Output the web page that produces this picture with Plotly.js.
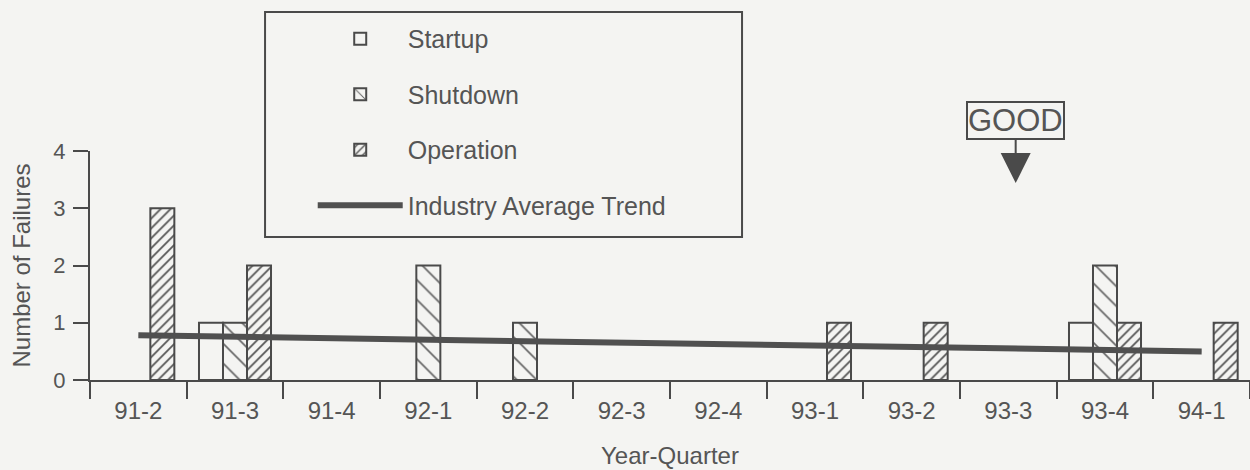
<!DOCTYPE html>
<html>
<head>
<meta charset="utf-8">
<script src="https://cdn.plot.ly/plotly-3.0.1.min.js"></script>
<style>html,body{margin:0;padding:0;background:#f4f4f2;}#chart{width:1250px;height:470px;}</style>
</head>
<body>
<div id="chart"></div>
<script>
var quarters = ['91-2','91-3','91-4','92-1','92-2','92-3','92-4','93-1','93-2','93-3','93-4','94-1'];
var startup   = [0,1,0,0,0,0,0,0,0,0,1,0];
var shutdown  = [0,1,0,2,1,0,0,0,0,0,2,0];
var operation = [3,2,0,0,0,0,0,1,1,0,1,1];
var trendX = ['91-2','94-1'];
var trendY = [0.78, 0.50];
var yTicks = [0,1,2,3,4];

var bg = '#f4f4f2';
var ink = '#4a4a4a';
var txt = '#555555';
var fontFam = '"Liberation Sans", Arial, sans-serif';
function nz(arr){ return arr.map(function(v){ return v === 0 ? null : v; }); }

var traces = [
  {type:'bar', name:'Startup', x:quarters, y:nz(startup), legendgroup:'a',
   marker:{color:bg, line:{color:ink, width:2}}},
  {type:'bar', name:'Shutdown', x:quarters, y:nz(shutdown), legendgroup:'b',
   marker:{color:bg, line:{color:ink, width:2},
     pattern:{shape:'\\', size:14, solidity:0.12, fgcolor:'#666', bgcolor:bg}}},
  {type:'bar', name:'Operation', x:quarters, y:nz(operation), legendgroup:'c',
   marker:{color:bg, line:{color:ink, width:2},
     pattern:{shape:'/', size:7, solidity:0.25, fgcolor:'#555', bgcolor:bg}}},
  {type:'scatter', mode:'lines', name:'Industry Average Trend', x:trendX, y:trendY, legendgroup:'d',
   line:{color:'#505050', width:6}}
];

var layout = {
  width:1250, height:470,
  paper_bgcolor:bg, plot_bgcolor:bg,
  margin:{l:90, r:0, t:151, b:90},
  barmode:'group', bargap:0.255, bargroupgap:0,
  font:{family:fontFam, color:txt, size:22},
  showlegend:true,
  legend:{x:0.192, xanchor:'left', y:1.59, yanchor:'top', bgcolor:'rgba(0,0,0,0)',
    borderwidth:0, font:{size:25, color:txt, family:fontFam},
    traceorder:'grouped', tracegroupgap:20, itemwidth:85},
  xaxis:{type:'category', categoryarray:quarters, tickson:'boundaries',
    showline:true, linecolor:ink, linewidth:2, mirror:false,
    ticks:'outside', ticklen:17, tickwidth:2, tickcolor:ink, ticklabelstandoff:8,
    tickfont:{size:24, color:txt}, showgrid:false, zeroline:false,
    title:{text:'Year-Quarter', font:{size:24, color:txt}, standoff:24}},
  yaxis:{range:[0,4], tickvals:yTicks, ticktext:yTicks.map(String),
    showline:true, linecolor:ink, linewidth:2,
    ticks:'outside', ticklen:15, tickwidth:2, tickcolor:ink, ticklabelstandoff:3,
    tickfont:{size:22, color:txt}, showgrid:false, zeroline:false,
    title:{text:'Number of Failures', font:{size:24, color:txt}, standoff:16}},
  shapes:[
    {type:'rect', xref:'paper', yref:'paper', x0:0.1509, x1:0.5621, y0:0.6245, y1:1.607,
     line:{color:ink, width:2}, fillcolor:'rgba(0,0,0,0)', layer:'below'}
  ],
  annotations:[
    {xref:'paper', yref:'y', x:0.798, y:3.44, text:'GOOD', showarrow:true,
     ax:0, ay:-63, arrowhead:2, arrowsize:3, arrowwidth:2, arrowcolor:ink,
     font:{size:31, color:txt, family:fontFam}, bordercolor:ink, borderwidth:2, borderpad:0,
     bgcolor:bg}
  ]
};

Plotly.newPlot('chart', traces, layout, {displayModeBar:false, staticPlot:true});
</script>
</body>
</html>
